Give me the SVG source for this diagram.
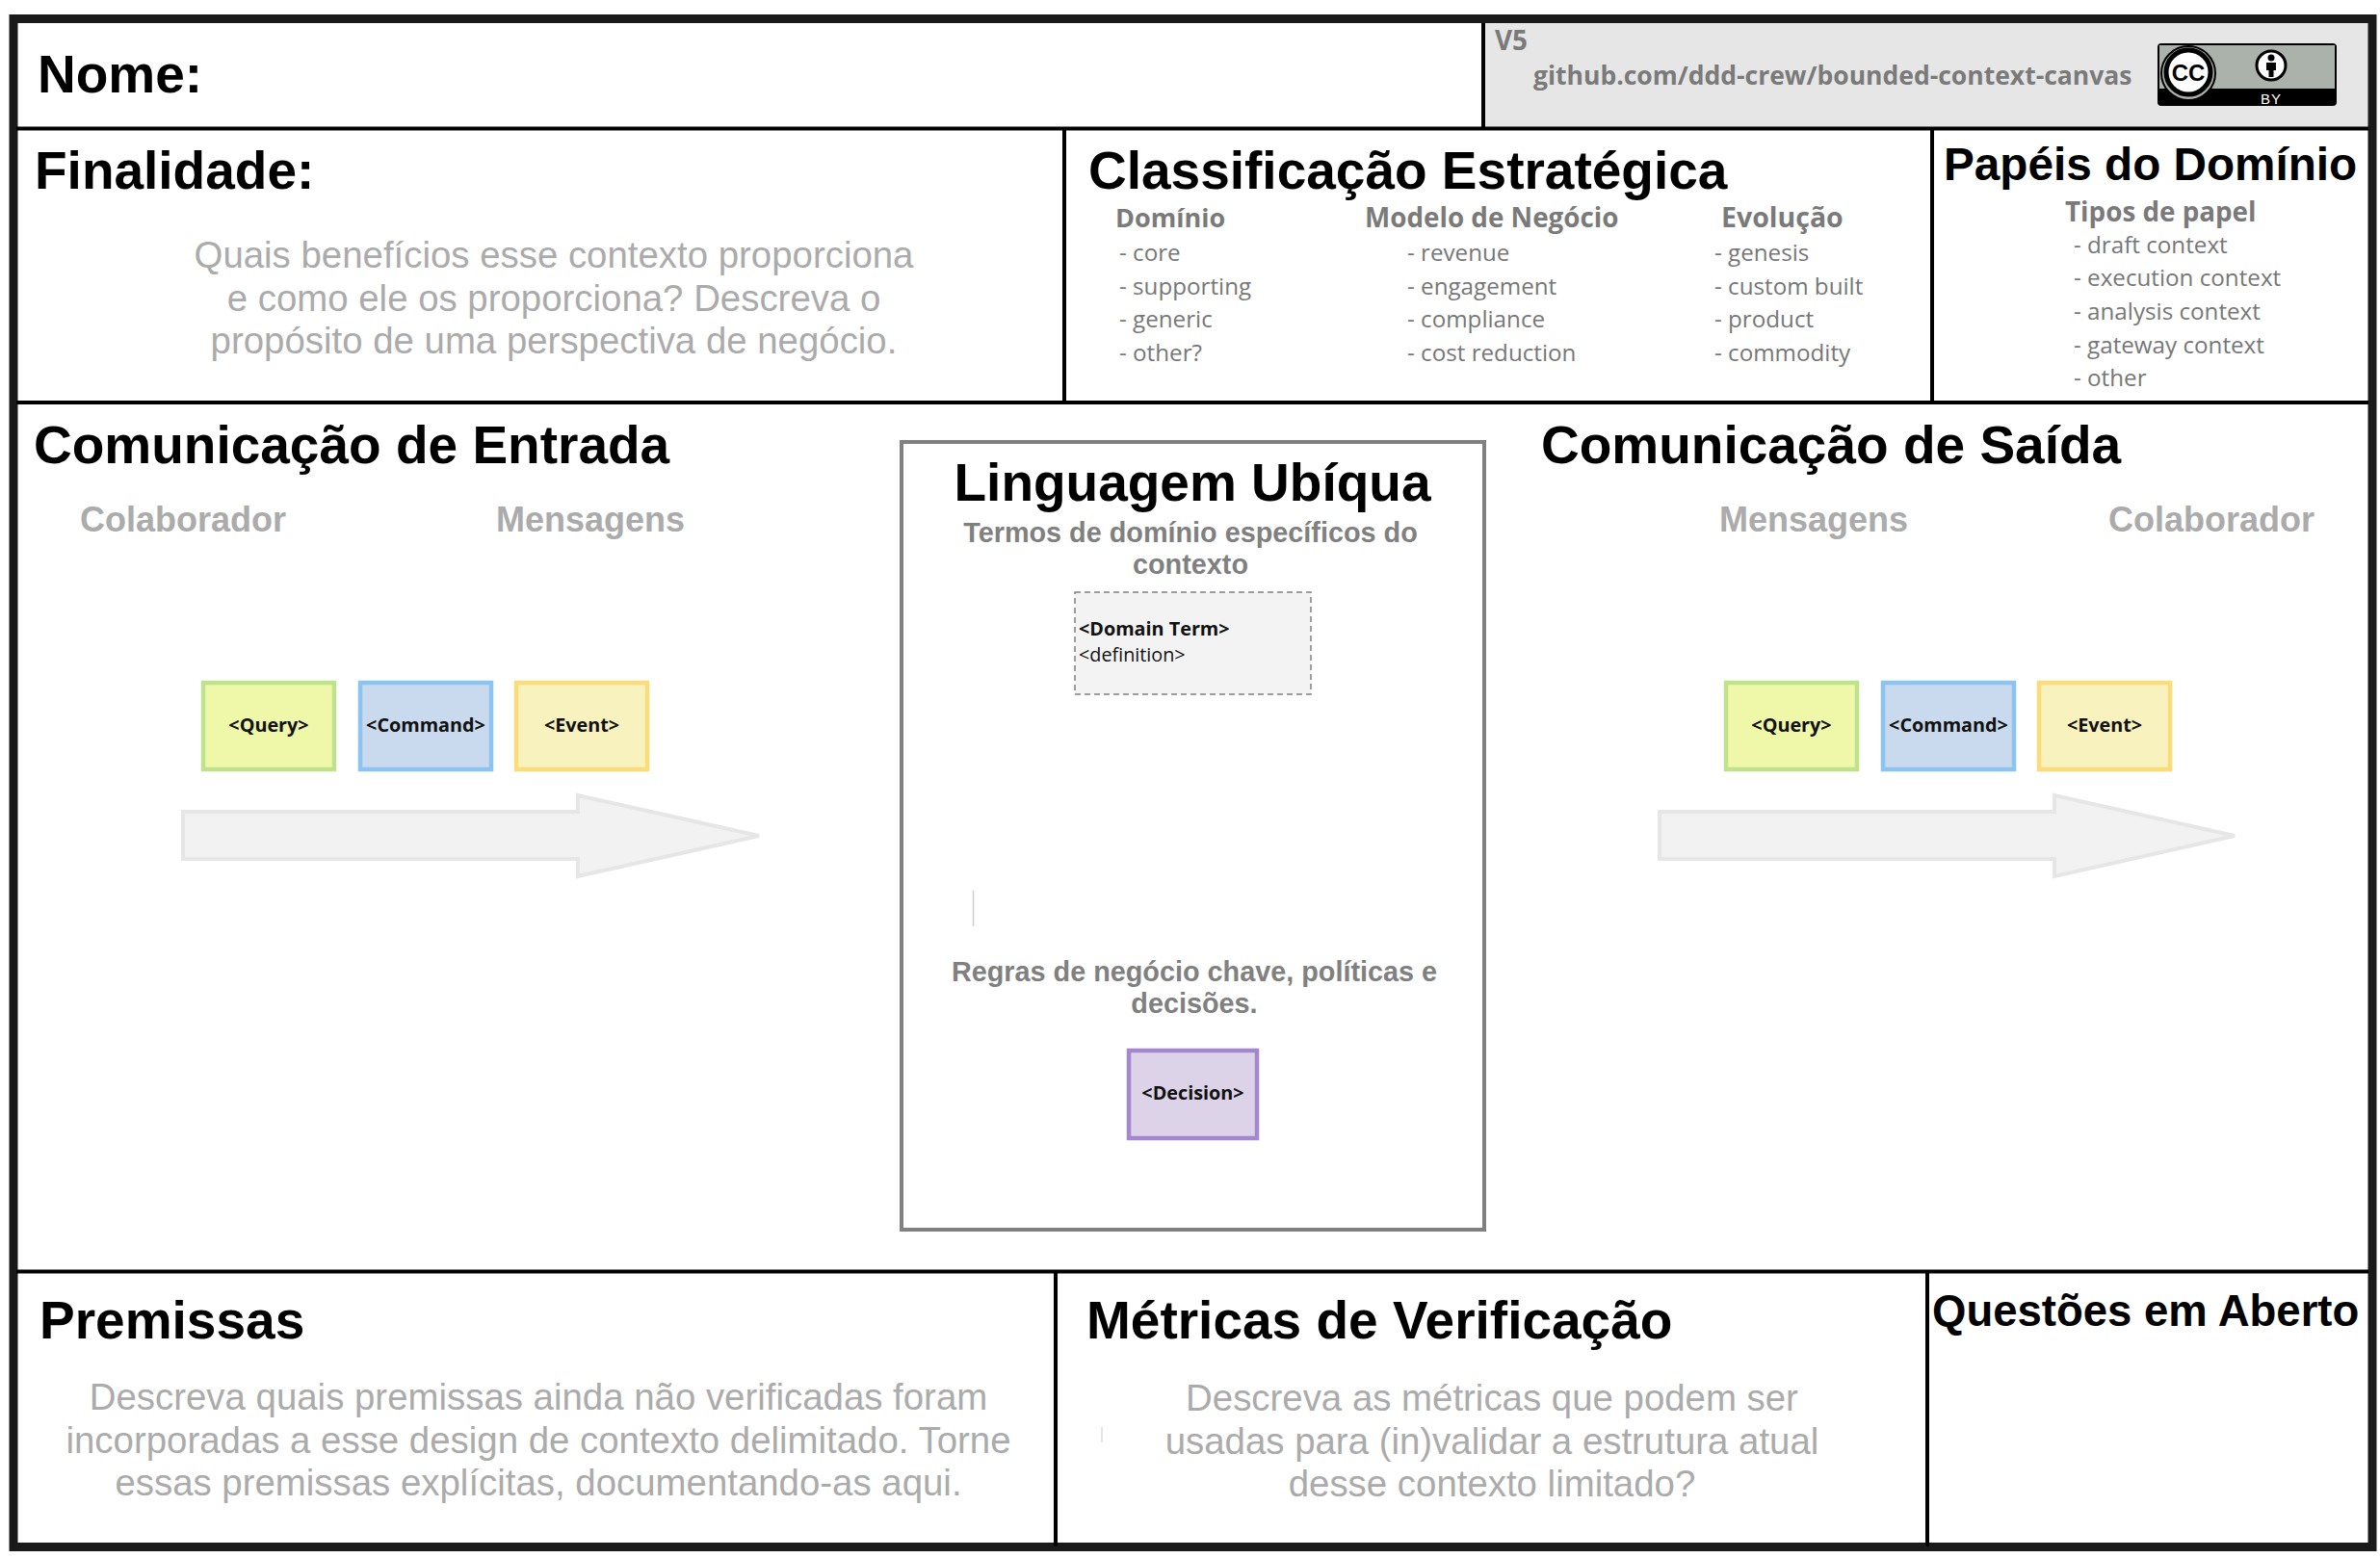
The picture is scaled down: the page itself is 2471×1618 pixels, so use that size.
<svg xmlns="http://www.w3.org/2000/svg" width="2471" height="1618" viewBox="0 0 2471 1618">
<style>
.h{font-family:"Liberation Sans",Arial,sans-serif;font-weight:700;fill:#000}
.d{font-family:"Liberation Sans",Arial,sans-serif;font-size:38.4px;fill:#ababab;text-anchor:middle}
.m{font-family:"Liberation Sans",Arial,sans-serif;font-weight:700;font-size:36px;fill:#ababab}
.s{font-family:"Liberation Sans",Arial,sans-serif;font-weight:700;font-size:28.8px;fill:#808080;text-anchor:middle}
.ch{font-family:"Open Sans",sans-serif;font-weight:700;font-size:27.8px;fill:#7a7a7a}
.ci{font-family:"Open Sans",sans-serif;font-size:24.2px;fill:#777}
.n{font-family:"Open Sans",sans-serif;font-weight:700;font-size:19.8px;fill:#111;text-anchor:middle}
.l{fill:none;stroke:#000;stroke-width:4}
.c{stroke-width:4.5}
.q{fill:#eff7a8;stroke:#bfe28c}
.b{fill:#c9daee;stroke:#8cc3f1}
.e{fill:#f8f2bf;stroke:#fbdc78}
.a{fill:#f2f2f2;stroke:#e6e6e6;stroke-width:4}
</style>
<rect width="2471" height="1618" fill="#fff"/>
<g id="frame">
<rect x="1540" y="24" width="919" height="108" fill="#e6e6e6"/>
<rect x="14" y="19.500" width="2449" height="1587" fill="none" stroke="#1a1a1a" stroke-width="9"/>
<path class="l" d="M17 133.500H2459M17 418H2459M17 1320.500H2459M1540 24V132M1105 135V416M2006 135V416M1096 1322V1606M2001 1322V1606"/>
</g>
<g id="nome"><text class="h" x="39" y="96" font-size="55">Nome:</text></g>
<g id="version">
<text class="ch" x="1552" y="52">V5</text>
<text class="ch" x="1592" y="88" style="font-size:26.500px">github.com/ddd-crew/bounded-context-canvas</text>
</g>
<g id="license">
<rect x="2240" y="45" width="186" height="65" rx="4" fill="#000"/>
<rect x="2242" y="47" width="182" height="45" fill="#aab2ab"/>
<circle cx="2272" cy="76" r="28" fill="#aab2ab" stroke="#000" stroke-width="2"/>
<circle cx="2272" cy="75" r="23" fill="#fff" stroke="#000" stroke-width="5"/>
<text x="2272" y="84" font-family="'Liberation Sans',sans-serif" font-weight="700" font-size="24" text-anchor="middle" fill="#000">CC</text>
<circle cx="2358" cy="68" r="15" fill="#fff" stroke="#000" stroke-width="3"/>
<circle cx="2358" cy="60" r="3.500" fill="#000"/>
<path d="M2353 65H2363V73H2360.500V80H2355.500V73H2353Z" fill="#000"/>
<text x="2358" y="108" font-family="'Liberation Sans',sans-serif" font-size="15" text-anchor="middle" fill="#fff" letter-spacing="1">BY</text>
</g>
<g id="finalidade">
<text class="h" x="36" y="196" font-size="55">Finalidade:</text>
<text class="d" x="575" y="278">Quais benefícios esse contexto proporciona</text>
<text class="d" x="575" y="323">e como ele os proporciona? Descreva o</text>
<text class="d" x="575" y="367">propósito de uma perspectiva de negócio.</text>
</g>
<g id="classificacao">
<text class="h" x="1130" y="196" font-size="55">Classificação Estratégica</text>
<text class="ch" x="1158" y="236" style="font-size:27px">Domínio</text>
<text class="ci" x="1162" y="271">- core</text>
<text class="ci" x="1162" y="306">- supporting</text>
<text class="ci" x="1162" y="340">- generic</text>
<text class="ci" x="1162" y="375">- other?</text>
<text class="ch" x="1417" y="236">Modelo de Negócio</text>
<text class="ci" x="1461" y="271">- revenue</text>
<text class="ci" x="1461" y="306">- engagement</text>
<text class="ci" x="1461" y="340">- compliance</text>
<text class="ci" x="1461" y="375">- cost reduction</text>
<text class="ch" x="1787" y="236" style="font-size:28.500px">Evolução</text>
<text class="ci" x="1780" y="271">- genesis</text>
<text class="ci" x="1780" y="306">- custom built</text>
<text class="ci" x="1780" y="340">- product</text>
<text class="ci" x="1780" y="375">- commodity</text>
</g>
<g id="papeis">
<text class="h" x="2018" y="187" font-size="47.7">Papéis do Domínio</text>
<text class="ch" x="2144" y="230">Tipos de papel</text>
<text class="ci" x="2153" y="263">- draft context</text>
<text class="ci" x="2153" y="297">- execution context</text>
<text class="ci" x="2153" y="332">- analysis context</text>
<text class="ci" x="2153" y="367">- gateway context</text>
<text class="ci" x="2153" y="401">- other</text>
</g>
<g id="entrada">
<text class="h" x="35" y="481" font-size="55">Comunicação de Entrada</text>
<text class="m" x="83" y="552">Colaborador</text>
<text class="m" x="515" y="552">Mensagens</text>
</g>
<g id="saida">
<text class="h" x="1600" y="481" font-size="55">Comunicação de Saída</text>
<text class="m" x="1785" y="552">Mensagens</text>
<text class="m" x="2189" y="552">Colaborador</text>
</g>
<g id="connectors">
<path class="a" d="M190 843H600V826L788 868L600 910V892H190Z"/>
<path class="a" d="M1723 843H2133V826L2320 868L2133 910V892H1723Z"/>
</g>
<g id="in-query"><rect class="q c" x="211" y="709" width="136" height="90"/><text class="n" x="279" y="760">&lt;Query&gt;</text></g>
<g id="in-command"><rect class="b c" x="374" y="709" width="136" height="90"/><text class="n" x="442" y="760">&lt;Command&gt;</text></g>
<g id="in-event"><rect class="e c" x="536" y="709" width="136" height="90"/><text class="n" x="604" y="760">&lt;Event&gt;</text></g>
<g id="out-query"><rect class="q c" x="1792" y="709" width="136" height="90"/><text class="n" x="1860" y="760">&lt;Query&gt;</text></g>
<g id="out-command"><rect class="b c" x="1955" y="709" width="136" height="90"/><text class="n" x="2023" y="760">&lt;Command&gt;</text></g>
<g id="out-event"><rect class="e c" x="2117" y="709" width="136" height="90"/><text class="n" x="2185" y="760">&lt;Event&gt;</text></g>
<g id="linguagem">
<rect x="936" y="459" width="605" height="818" fill="#fff" stroke="#808080" stroke-width="4"/>
<text class="h" x="1238" y="520" font-size="55" text-anchor="middle">Linguagem Ubíqua</text>
<text class="s" x="1236" y="563">Termos de domínio específicos do</text>
<text class="s" x="1236" y="596">contexto</text>
<path d="M1010.500 925V962" stroke="#ccc" stroke-width="1.500"/>
<text class="s" x="1240" y="1019">Regras de negócio chave, políticas e</text>
<text class="s" x="1240" y="1052">decisões.</text>
</g>
<g id="domain-term">
<rect x="1116" y="615" width="245" height="106" fill="#f3f3f3" stroke="#808080" stroke-width="1.500" stroke-dasharray="6 4"/>
<text x="1120" y="660" font-family="'Open Sans',sans-serif" font-weight="700" font-size="19.8" fill="#111">&lt;Domain Term&gt;</text>
<text x="1120" y="687" font-family="'Open Sans',sans-serif" font-size="19.8" fill="#111">&lt;definition&gt;</text>
</g>
<g id="decision"><rect x="1172" y="1091" width="133" height="91" fill="#dcd3e8" stroke="#a587d0" stroke-width="4.500"/><text class="n" x="1238.500" y="1142">&lt;Decision&gt;</text></g>
<g id="premissas">
<text class="h" x="41" y="1390" font-size="55">Premissas</text>
<text class="d" x="559" y="1464">Descreva quais premissas ainda não verificadas foram</text>
<text class="d" x="559" y="1509">incorporadas a esse design de contexto delimitado. Torne</text>
<text class="d" x="559" y="1553">essas premissas explícitas, documentando-as aqui.</text>
</g>
<g id="metricas">
<text class="h" x="1128" y="1390" font-size="55">Métricas de Verificação</text>
<text class="d" x="1549" y="1465">Descreva as métricas que podem ser</text>
<text class="d" x="1549" y="1510">usadas para (in)validar a estrutura atual</text>
<text class="d" x="1549" y="1554">desse contexto limitado?</text>
<path d="M1144 1482V1498" stroke="#ddd" stroke-width="1.500"/>
</g>
<g id="questoes"><text class="h" x="2006" y="1377" font-size="45.5">Questões em Aberto</text></g>
</svg>
